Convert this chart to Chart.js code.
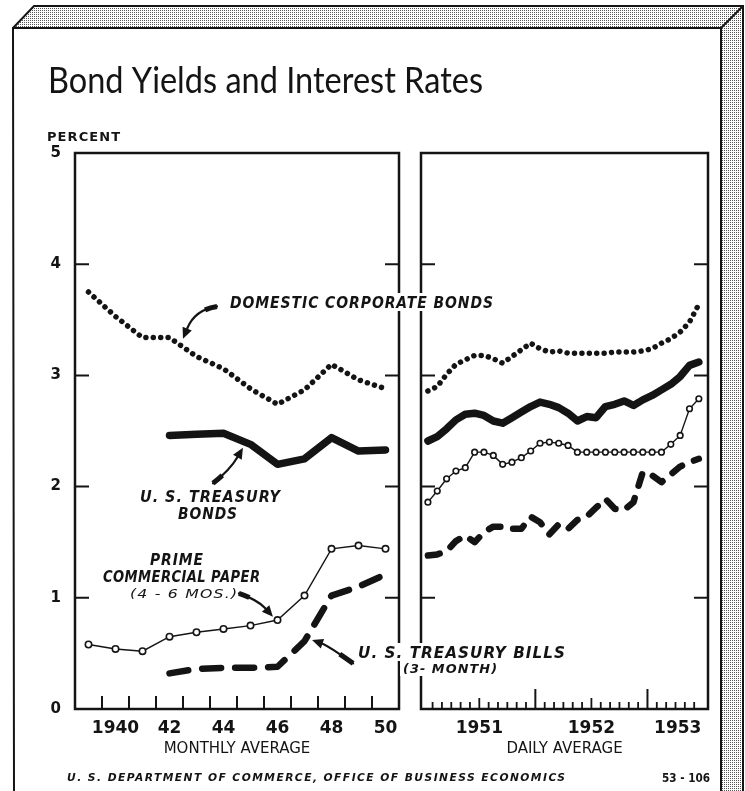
<!DOCTYPE html>
<html>
<head>
<meta charset="utf-8">
<title>Bond Yields and Interest Rates</title>
<script src="https://cdn.jsdelivr.net/npm/chart.js@4.4.1/dist/chart.umd.min.js"></script>
<style>
  html, body { margin: 0; padding: 0; background: #fff; }
  #page { position: relative; width: 745px; height: 791px; overflow: hidden; background: #fff; }
  #page canvas { position: absolute; left: 0; top: 0; }
</style>
</head>
<body>
<div id="page">
  <canvas id="frame" width="745" height="791"></canvas>
  <canvas id="rightChart" width="745" height="791"></canvas>
  <canvas id="leftChart" width="745" height="791"></canvas>
</div>
<script>
// ---- data: left panel, annual averages 1939-1950 ----
const leftYears = [1939, 1940, 1941, 1942, 1943, 1944, 1945, 1946, 1947, 1948, 1949, 1950];
const corpBondsAnnual  = [3.75, 3.53, 3.34, 3.34, 3.17, 3.06, 2.88, 2.74, 2.87, 3.10, 2.96, 2.88];
const treasBondsAnnual = [null, null, null, 2.46, 2.47, 2.48, 2.38, 2.20, 2.25, 2.44, 2.32, 2.33];
const commPaperAnnual  = [0.58, 0.54, 0.52, 0.65, 0.69, 0.72, 0.75, 0.80, 1.02, 1.44, 1.47, 1.44];
const treasBillsAnnual = [null, null, null, 0.32, 0.36, 0.37, 0.37, 0.38, 0.61, 1.02, 1.10, 1.21];
const leftTickLabels = ['1940', '42', '44', '46', '48', '50'];
const leftTickAt     = [1940.5, 1942.5, 1944.5, 1946.5, 1948.5, 1950.5];

// ---- data: right panel, monthly Jan 1951 - Jun 1953 ----
const rightMonths = [];
for (let y = 1951; y <= 1953; y++) {
  for (let m = 0; m < 12; m++) {
    if (rightMonths.length < 30) rightMonths.push(y + (m + 0.5) / 12);
  }
}
const corpBondsMonthly  = [2.86, 2.90, 3.01, 3.10, 3.14, 3.18, 3.18, 3.15, 3.11, 3.17, 3.23, 3.29,
                           3.24, 3.21, 3.22, 3.20, 3.20, 3.20, 3.20, 3.20, 3.21, 3.21, 3.21, 3.22,
                           3.24, 3.29, 3.33, 3.39, 3.48, 3.64];
const treasBondsMonthly = [2.41, 2.45, 2.52, 2.60, 2.65, 2.66, 2.64, 2.59, 2.57, 2.62, 2.67, 2.72,
                           2.76, 2.74, 2.71, 2.66, 2.59, 2.63, 2.62, 2.72, 2.74, 2.77, 2.73, 2.78,
                           2.82, 2.87, 2.92, 2.99, 3.09, 3.12];
const commPaperMonthly  = [1.86, 1.96, 2.07, 2.14, 2.17, 2.31, 2.31, 2.28, 2.20, 2.22, 2.26, 2.32,
                           2.39, 2.40, 2.39, 2.37, 2.31, 2.31, 2.31, 2.31, 2.31, 2.31, 2.31, 2.31,
                           2.31, 2.31, 2.38, 2.46, 2.70, 2.79];
const treasBillsMonthly = [1.38, 1.39, 1.42, 1.51, 1.56, 1.50, 1.59, 1.64, 1.64, 1.62, 1.62, 1.73,
                           1.68, 1.57, 1.66, 1.62, 1.70, 1.73, 1.81, 1.89, 1.80, 1.79, 1.86, 2.13,
                           2.10, 2.04, 2.11, 2.18, 2.22, 2.25];
const rightTickLabels = ['1951', '1952', '1953'];
const rightTickAt     = [1951.5, 1952.5, 1953.27];

const yTickValues = [0, 1, 2, 3, 4, 5];

const ink = '#141414';
const lettering = '"DejaVu Sans", "Liberation Sans", sans-serif';

// ---- the page frame (3D box look) ----
(function drawFrame() {
  const c = document.getElementById('frame').getContext('2d');
  const pc = document.createElement('canvas');
  pc.width = 2; pc.height = 2;
  const p = pc.getContext('2d');
  p.fillStyle = '#fff'; p.fillRect(0, 0, 2, 2);
  p.fillStyle = '#555'; p.fillRect(0, 0, 1, 1);
  const dots = c.createPattern(pc, 'repeat');

  c.fillStyle = dots;
  c.beginPath();
  c.moveTo(13, 28); c.lineTo(34, 6); c.lineTo(743, 6); c.lineTo(743, 791);
  c.lineTo(721, 791); c.lineTo(721, 28); c.closePath();
  c.fill();

  c.strokeStyle = ink; c.lineWidth = 2;
  c.beginPath();
  c.moveTo(14, 791); c.lineTo(13, 28); c.lineTo(721, 28); c.lineTo(721, 791);
  c.moveTo(13, 28); c.lineTo(34, 6); c.lineTo(743, 6); c.lineTo(743, 791);
  c.moveTo(721, 28); c.lineTo(743, 6);
  c.stroke();
})();

// ---- helpers ----
function pts(xs, ys) {
  return xs.map((x, i) => ({ x: x, y: ys[i] }));
}

function fixWidth(w) { return function (scale) { scale.width = w; }; }
function fixHeight(h) { return function (scale) { scale.height = h; }; }

// frame of each panel plus inward tick marks
function panelPlugin(xTicks) {
  return {
    id: 'panelFrame',
    beforeDatasetsDraw(chart) {
      const { ctx, chartArea: a, scales: { x, y } } = chart;
      ctx.save();
      ctx.strokeStyle = ink;
      ctx.lineWidth = 2.5;
      ctx.strokeRect(a.left, a.top, a.right - a.left, a.bottom - a.top);
      ctx.lineWidth = 2;
      ctx.beginPath();
      yTickValues.slice(1, -1).forEach(v => {
        const py = y.getPixelForValue(v);
        ctx.moveTo(a.left, py); ctx.lineTo(a.left + 14, py);
        ctx.moveTo(a.right, py); ctx.lineTo(a.right - 14, py);
      });
      ctx.stroke();
      xTicks.forEach(t => {
        const px = x.getPixelForValue(t.v);
        ctx.lineWidth = t.len > 12 ? 2 : 1.8;
        ctx.beginPath();
        ctx.moveTo(px, a.bottom); ctx.lineTo(px, a.bottom - t.len);
        ctx.stroke();
      });
      ctx.restore();
    }
  };
}

function fitText(ctx, text, x, y, w, font, spacing, knock) {
  ctx.save();
  ctx.font = font;
  ctx.letterSpacing = (spacing || 0) + 'px';
  const m = ctx.measureText(text);
  const natural = m.width - (spacing || 0);
  if (knock) {
    const h = m.actualBoundingBoxAscent;
    ctx.fillStyle = '#fff';
    ctx.fillRect(x - 3, y - h - 3, w + 6, h + 6);
  }
  ctx.fillStyle = ink;
  ctx.textBaseline = 'alphabetic';
  ctx.translate(x, y);
  ctx.scale(w / natural, 1);
  ctx.fillText(text, 0, 0);
  ctx.restore();
}

// tapered callout arrow, anchored in data units of the left panel
function arrow(ctx, x, y, tail, ctrl, head) {
  const P = q => ({ x: x.getPixelForValue(q[0]), y: y.getPixelForValue(q[1]) });
  const p0 = P(tail), c = P(ctrl), p1 = P(head);
  const dx = p1.x - c.x, dy = p1.y - c.y, d = Math.hypot(dx, dy);
  const ux = dx / d, uy = dy / d;
  const L = 11, W = 5;
  const base = { x: p1.x - ux * L, y: p1.y - uy * L };
  ctx.save();
  ctx.strokeStyle = ink; ctx.fillStyle = ink;
  ctx.lineCap = 'round';
  ctx.lineWidth = 2.2;
  ctx.beginPath();
  ctx.moveTo(p0.x, p0.y); ctx.quadraticCurveTo(c.x, c.y, base.x, base.y);
  ctx.stroke();
  // thick tail
  const t = 0.3;
  const q1 = { x: p0.x + (c.x - p0.x) * t, y: p0.y + (c.y - p0.y) * t };
  const e = { x: (1 - t) * (1 - t) * p0.x + 2 * t * (1 - t) * c.x + t * t * base.x,
              y: (1 - t) * (1 - t) * p0.y + 2 * t * (1 - t) * c.y + t * t * base.y };
  ctx.lineWidth = 5;
  ctx.lineCap = 'butt';
  ctx.beginPath();
  ctx.moveTo(p0.x, p0.y); ctx.quadraticCurveTo(q1.x, q1.y, e.x, e.y);
  ctx.stroke();
  // head
  ctx.beginPath();
  ctx.moveTo(p1.x, p1.y);
  ctx.lineTo(base.x - uy * W, base.y + ux * W);
  ctx.lineTo(base.x + uy * W, base.y - ux * W);
  ctx.closePath();
  ctx.fill();
  ctx.restore();
}

const labelFont = 'italic bold 15px ' + lettering;
const textPlugin = {
  id: 'lettering',
  afterDraw(chart) {
    const { ctx, scales: { x, y } } = chart;
    fitText(ctx, 'Bond Yields and Interest Rates', 48, 93, 435, '36px Lato, "Open Sans", sans-serif', 0, false);
    fitText(ctx, 'PERCENT', 47, 141, 73, 'bold 12px ' + lettering, 1, false);

    fitText(ctx, 'DOMESTIC CORPORATE BONDS', 230, 308, 263, labelFont, 1, true);
    fitText(ctx, 'U. S. TREASURY', 140, 502, 140, labelFont, 1, true);
    fitText(ctx, 'BONDS', 178, 519, 59, labelFont, 1, true);
    fitText(ctx, 'PRIME', 150, 565, 53, labelFont, 1, true);
    fitText(ctx, 'COMMERCIAL PAPER', 103, 582, 157, labelFont, 0.5, true);
    fitText(ctx, '(4 - 6 MOS.)', 130, 598, 107, 'italic 13px ' + lettering, 1, true);
    fitText(ctx, 'U. S. TREASURY BILLS', 358, 658, 207, labelFont, 1, true);
    fitText(ctx, '(3- MONTH)', 403, 673, 94, 'italic bold 12px ' + lettering, 1, true);

    fitText(ctx, 'U. S. DEPARTMENT OF COMMERCE, OFFICE OF BUSINESS ECONOMICS', 67, 781, 498, 'italic bold 11px ' + lettering, 1.5, false);
    fitText(ctx, '53 - 106', 662, 782, 48, 'bold 13px ' + lettering, 0, false);

    arrow(ctx, x, y, [1944.26, 3.62], [1943.44, 3.59], [1943.0, 3.33]);
    arrow(ctx, x, y, [1944.11, 2.03], [1944.74, 2.15], [1945.22, 2.35]);
    arrow(ctx, x, y, [1945.07, 1.04], [1945.78, 0.98], [1946.33, 0.83]);
    arrow(ctx, x, y, [1949.30, 0.41], [1948.37, 0.57], [1947.78, 0.62]);
  }
};

const tickFont = { family: lettering, size: 17, weight: 'bold' };
const axisTitleFont = { family: lettering, size: 15 };

function datasets(xs, corp, tbonds, cp, tbills, cpRadius, billDash) {
  return [
    { label: 'Domestic corporate bonds', data: pts(xs, corp), borderColor: ink, borderWidth: 5.5,
      borderDash: [0.01, 7.4], borderCapStyle: 'round', pointRadius: 0 },
    { label: 'U. S. Treasury bonds', data: pts(xs, tbonds), borderColor: ink, borderWidth: 7.5,
      borderCapStyle: 'round', borderJoinStyle: 'round', pointRadius: 0 },
    { label: 'Prime commercial paper (4-6 mos.)', data: pts(xs, cp), borderColor: ink, borderWidth: 1.4,
      pointRadius: cpRadius, pointBorderWidth: 1.6, pointBackgroundColor: '#fff', pointBorderColor: ink },
    { label: 'U. S. Treasury bills (3-month)', data: pts(xs, tbills), borderColor: ink, borderWidth: 6.5,
      borderDash: billDash, borderCapStyle: 'round', borderJoinStyle: 'round', pointRadius: 0 }
  ];
}

Chart.defaults.animation = false;
Chart.defaults.color = ink;

// ---- right panel (daily average, monthly points) ----
const rightXTicks = [];
for (let k = 1; k < 30; k++) {
  rightXTicks.push({ v: 1951 + k / 12, len: k % 12 === 0 ? 20 : (k % 12 === 6 ? 11 : 7) });
}
const rightChart = new Chart(document.getElementById('rightChart'), {
  type: 'line',
  data: { datasets: datasets(rightMonths, corpBondsMonthly, treasBondsMonthly, commPaperMonthly,
                             treasBillsMonthly, 2.8, [12, 13]) },
  options: {
    responsive: false,
    devicePixelRatio: 1,
    layout: { padding: { left: 421, right: 745 - 708, top: 153, bottom: 0 } },
    plugins: { legend: { display: false }, tooltip: { enabled: false } },
    scales: {
      x: {
        type: 'linear', min: 1950.98, max: 1953.54,
        grid: { display: false, drawTicks: false }, border: { display: false },
        afterFit: fixHeight(82),
        afterBuildTicks: s => { s.ticks = rightTickAt.map(v => ({ value: v })); },
        ticks: { autoSkip: false, maxRotation: 0, padding: 9, font: tickFont,
                 callback: (v, i) => rightTickLabels[i] },
        title: { display: true, text: 'DAILY AVERAGE', font: axisTitleFont, padding: { top: 0, bottom: 33 } }
      },
      y: { display: false, min: 0, max: 5 }
    }
  },
  plugins: [panelPlugin(rightXTicks)]
});

// ---- left panel (monthly average, annual points) ----
const leftXTicks = leftYears.slice(1).map(v => ({ v: v, len: 13 }));
const leftChart = new Chart(document.getElementById('leftChart'), {
  type: 'line',
  data: { datasets: datasets(leftYears.map(y => y + 0.5), corpBondsAnnual, treasBondsAnnual,
                             commPaperAnnual, treasBillsAnnual, 3.2, [19, 14]) },
  options: {
    responsive: false,
    devicePixelRatio: 1,
    layout: { padding: { left: 0, right: 745 - 399, top: 153, bottom: 0 } },
    plugins: { legend: { display: false }, tooltip: { enabled: false } },
    scales: {
      x: {
        type: 'linear', min: 1939, max: 1951,
        grid: { display: false, drawTicks: false }, border: { display: false },
        afterFit: fixHeight(82),
        afterBuildTicks: s => { s.ticks = leftTickAt.map(v => ({ value: v })); },
        ticks: { autoSkip: false, maxRotation: 0, padding: 9, font: tickFont,
                 callback: (v, i) => leftTickLabels[i] },
        title: { display: true, text: 'MONTHLY AVERAGE', font: axisTitleFont, padding: { top: 0, bottom: 33 } }
      },
      y: {
        min: 0, max: 5,
        grid: { display: false, drawTicks: false }, border: { display: false },
        afterFit: fixWidth(75),
        afterBuildTicks: s => { s.ticks = yTickValues.map(v => ({ value: v })); },
        ticks: { padding: 14, font: { family: lettering, size: 15, weight: 'bold' } }
      }
    }
  },
  plugins: [panelPlugin(leftXTicks), textPlugin]
});
</script>
</body>
</html>
